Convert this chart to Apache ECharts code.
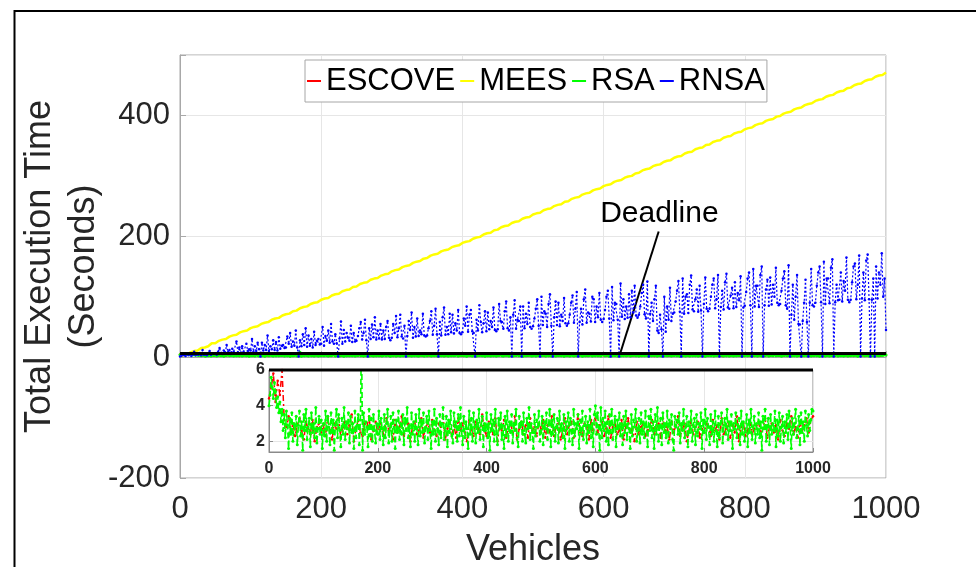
<!DOCTYPE html>
<html><head><meta charset="utf-8">
<script src="https://cdn.jsdelivr.net/npm/echarts@6/dist/echarts.min.js"></script>
<style>html,body{margin:0;padding:0;background:#fff}#c{width:976px;height:567px}</style>
</head><body><div id="c"></div>
<script>
// ---- data ----
const seriesNames = ['ESCOVE', 'MEES', 'RSA', 'RNSA'];
const xTickLabels = [0, 200, 400, 600, 800, 1000];
const mainYTickLabels = [-200, 0, 200, 400];
const insetYTickLabels = [2, 4, 6];
const deadlineValue = 6;
const rnsaStep = 2;    // vehicles between samples
const rsaStep = 2;
const escoveStep = 4;
const meesStep = 5;

const rnsaValues = [
 1,2,4,3,2,6,3,5,2,4,9,3,5,4,7,3,12,4,6,3,5,10,4,6,5,
 6,4,9,15,7,5,11,6,20,8,12,5,14,9,6,26,8,16,7,18,9,6,22,10,13,
 11,30,9,18,10,24,13,1,24,11,20,12,36,10,18,13,28,12,25,11,33,14,19,20,15,
 16,34,22,40,17,26,19,44,16,1,28,18,38,20,48,17,36,19,30,16,42,20,27,30,21,
 22,50,19,35,27,44,24,55,26,22,38,23,1,31,59,22,45,26,40,32,27,52,25,40,26,
 27,35,48,58,29,40,62,28,1,48,30,54,33,66,29,44,31,55,29,44,30,50,60,32,28,
 32,55,40,68,33,48,70,34,31,52,1,35,60,45,74,32,50,34,64,35,44,38,72,36,34,
 36,48,60,76,37,52,80,38,1,58,36,66,82,37,50,38,72,41,70,39,56,44,78,40,38,
 41,64,52,84,42,70,78,43,40,1,62,44,86,58,41,56,76,43,74,46,60,50,82,45,43,
 46,88,60,58,47,76,92,48,44,66,1,70,94,47,62,60,84,1,84,48,72,55,90,50,47,
 51,64,80,96,52,1,100,53,76,72,50,88,104,52,1,66,92,53,90,51,70,60,98,56,52,
 56,70,90,102,57,80,108,1,58,80,54,96,112,57,74,72,59,100,96,58,84,66,106,62,58,
 63,78,100,110,64,1,116,61,90,88,62,1,122,67,96,63,84,65,104,66,110,74,118,69,65,
 70,84,106,120,71,64,125,1,72,90,60,96,118,44,40,70,46,1,100,42,84,62,115,60,72,
 74,92,110,126,75,1,130,72,100,104,73,120,135,79,76,96,112,75,118,77,1,88,132,80,76,
 80,100,120,130,81,96,136,1,83,110,79,124,138,82,80,102,115,81,124,83,106,94,134,1,82,
 85,108,130,140,86,1,146,84,118,118,83,136,150,1,86,112,128,85,132,87,120,100,148,90,86,
 88,110,130,142,86,80,152,1,70,120,62,100,136,55,54,1,60,90,128,58,1,90,146,86,84,
 90,118,140,150,91,1,158,88,130,130,89,148,162,1,91,120,94,95,140,92,126,110,165,95,91,
 95,124,150,155,96,120,168,1,97,140,94,160,170,96,1,95,130,1,150,97,140,120,172,100,130,
 45
];

const meesValues = [
 1, 3, 4, 8, 10, 11, 15, 16, 18, 23,
 23, 27, 29, 30, 34, 36, 37, 41, 43, 44,
 48, 50, 51, 55, 57, 58, 62, 64, 65, 69,
 71, 72, 76, 77, 81, 83, 84, 88, 90, 91,
 95, 97, 98, 102, 104, 105, 109, 111, 112, 116,
 117, 121, 123, 124, 128, 130, 131, 135, 137, 138,
 142, 144, 145, 149, 151, 152, 156, 158, 159, 163,
 164, 168, 170, 171, 175, 177, 178, 182, 184, 185,
 189, 191, 192, 196, 198, 199, 203, 205, 206, 210,
 211, 215, 217, 218, 222, 224, 225, 229, 231, 232,
 236, 238, 239, 243, 245, 246, 250, 252, 253, 257,
 258, 262, 264, 265, 269, 271, 272, 276, 278, 279,
 283, 285, 286, 290, 292, 293, 297, 299, 300, 304,
 305, 309, 311, 312, 316, 318, 319, 323, 325, 326,
 330, 332, 333, 337, 339, 340, 344, 346, 347, 351,
 352, 356, 358, 359, 363, 365, 366, 370, 372, 373,
 377, 379, 380, 384, 386, 387, 391, 393, 394, 398,
 399, 403, 405, 406, 410, 412, 413, 417, 419, 420,
 424, 426, 427, 431, 433, 434, 438, 440, 441, 445,
 446, 450, 452, 453, 457, 459, 460, 464, 466, 467,
 471
];

const escoveValues = [
 4.4,5.0,5.8,4.2,5.4,4.6,6.0,3.2,2.8,3.4,2.5,3.0,2.3,2.9,3.3,2.6,2.1,3.1,2.7,2.4,3.2,2.0,2.8,3.0,2.5,
 2.9,2.3,3.4,2.6,2.1,3.0,2.7,3.3,2.2,2.8,3.1,2.4,2.9,3.5,2.0,2.7,3.2,2.5,2.3,3.0,2.8,3.4,2.1,2.6,3.1,
 2.4,3.0,2.7,2.2,3.3,2.6,2.9,2.1,3.2,2.5,2.8,3.4,2.3,2.7,3.0,2.0,2.9,3.1,2.4,2.6,3.3,2.2,2.8,3.0,2.5,
 3.2,2.6,2.3,3.0,2.8,3.4,2.1,2.7,3.1,2.4,2.9,2.2,3.3,2.6,3.0,2.5,2.0,3.2,2.7,2.3,3.1,2.8,2.4,3.5,2.6,
 2.3,3.1,2.7,2.4,3.3,2.0,2.9,2.6,3.2,2.2,2.8,3.0,2.5,3.4,2.1,2.7,3.1,2.4,2.9,2.2,3.3,2.6,2.8,2.3,3.0,
 2.7,3.2,2.2,2.9,2.5,3.4,2.3,2.8,3.0,2.1,2.6,3.3,2.4,2.9,3.1,2.2,2.7,3.5,2.5,2.3,3.0,2.8,2.1,3.2,2.6,
 3.3,2.5,2.9,3.1,2.3,2.7,3.4,2.2,2.8,3.0,2.4,2.6,3.2,2.1,2.9,3.3,2.5,2.7,2.0,3.1,2.4,2.8,3.0,2.3,2.6,
 2.9,3.2,2.4,2.7,3.0,2.2,3.3,2.6,2.8,2.1,3.1,2.5,2.9,3.4,2.3,2.7,3.0,2.0,2.6,3.2,2.4,2.8,3.1,2.2,2.7,
 2.5,3.0,2.8,2.3,3.2,2.6,2.9,2.1,3.3,2.4,2.7,3.1,2.2,2.9,2.5,3.4,2.0,2.8,3.0,2.3,2.6,3.2,2.4,2.7,2.9,
 3.1,2.4,2.7,3.3,2.2,2.8,3.0,2.5,2.9,2.1,3.2,2.6,2.3,3.0,2.7,3.4,2.4,2.8,2.2,3.1,2.6,2.9,3.3,2.5,3.2,
 3.4
];

const rsaValues = [
 4.0,4.6,5.6,5.0,4.4,5.3,4.8,3.9,4.5,3.6,4.2,3.1,3.8,2.6,3.5,2.2,3.7,2.9,1.6,3.3,2.4,3.6,2.0,3.0,2.7,
 3.4,1.8,2.9,3.7,2.3,3.1,1.5,3.5,2.6,3.8,2.1,2.8,3.3,1.7,3.6,2.5,3.0,2.2,3.9,1.9,2.7,3.4,2.4,3.2,1.6,
 3.0,2.3,3.7,2.0,3.4,2.8,1.8,3.6,2.5,3.2,1.5,2.9,3.8,2.2,3.5,2.6,1.7,3.3,2.4,3.9,2.1,3.1,2.7,3.6,1.9,
 3.4,2.5,3.0,1.6,3.7,2.2,2.9,3.5,1.8,3.2,8.0,1.5,3.6,2.4,3.1,2.8,1.7,3.8,2.3,3.3,2.0,3.5,2.6,1.9,3.0,
 2.4,3.7,2.1,3.3,2.7,1.8,3.5,2.2,3.0,3.8,1.9,2.6,3.4,2.0,3.6,2.8,1.6,3.2,2.5,3.7,2.1,3.0,2.4,3.5,1.8,
 3.3,2.6,3.9,2.2,2.9,1.7,3.6,2.4,3.1,2.0,3.5,2.7,1.8,3.8,2.3,3.2,2.5,3.6,1.9,2.8,3.4,2.1,3.7,2.6,1.6,
 3.1,2.4,3.8,2.0,3.3,2.7,1.8,3.5,2.2,3.0,3.9,2.1,2.6,3.4,1.7,3.2,2.5,3.7,2.3,1.9,3.6,2.8,3.1,2.0,3.5,
 2.3,3.9,2.6,1.8,3.4,2.2,3.1,2.7,1.6,3.7,2.4,3.3,2.0,3.6,2.8,1.9,3.2,2.5,3.8,2.1,2.9,3.4,1.7,3.0,2.6,
 3.6,2.2,3.0,1.5,3.5,2.6,3.2,2.0,3.8,2.4,1.8,3.3,2.7,3.6,2.1,2.9,1.6,3.4,2.3,3.7,2.0,3.1,2.5,3.5,1.9,
 3.0,2.6,3.8,2.2,1.7,3.4,2.8,3.1,2.0,3.6,2.4,1.9,3.3,2.7,3.9,2.1,3.0,2.5,1.6,3.5,2.3,3.2,2.8,3.7,2.0,
 2.5,3.4,1.8,3.1,2.7,3.6,2.1,2.9,3.8,1.7,3.2,2.4,3.5,2.0,2.8,3.3,1.9,3.7,2.6,3.0,2.2,3.5,1.6,3.1,2.7,
 3.6,2.0,3.3,2.6,1.8,3.8,2.3,3.0,2.7,3.5,1.6,3.2,2.4,3.7,2.1,2.9,3.4,1.9,3.1,2.5,3.8,2.2,3.0,1.7,3.5,
 4.0,2.4,3.6,2.8,1.5,3.9,2.2,3.3,2.6,3.7,2.0,3.1,1.8,3.5,2.5,3.8,2.1,2.9,3.4,1.7,3.2,2.7,3.6,2.3,3.0,
 1.8,3.4,2.5,3.7,2.1,3.0,2.7,1.6,3.5,2.3,3.2,2.8,3.8,2.0,2.6,3.3,1.9,3.6,2.4,3.1,2.2,3.7,2.8,1.7,3.4,
 2.6,3.8,2.2,3.1,1.6,3.5,2.4,3.9,2.0,2.9,3.3,1.8,3.6,2.5,3.0,2.2,3.7,1.9,3.2,2.7,3.5,2.1,1.5,3.4,2.8,
 3.2,2.4,3.6,1.9,3.0,2.6,3.8,2.2,2.8,3.4,1.7,3.1,2.5,3.7,2.0,2.9,3.3,1.8,3.5,2.3,3.0,2.7,3.6,1.6,3.2,
 2.5,3.8,2.1,3.3,2.8,1.8,3.5,2.4,3.1,2.0,3.7,2.6,1.7,3.4,2.2,3.0,3.6,1.9,2.9,3.3,2.4,3.8,2.1,3.1,2.6,
 3.5,1.6,3.0,2.7,3.6,2.2,2.9,3.3,1.8,3.7,2.4,3.1,2.0,2.6,3.5,1.7,3.2,2.5,3.8,2.1,2.8,3.4,1.9,3.0,2.4,
 3.6,2.2,3.1,1.5,3.4,2.7,3.8,2.0,2.9,3.3,1.8,3.5,2.4,3.0,2.6,3.7,1.7,3.2,2.3,3.6,2.0,2.8,3.4,1.9,3.1,
 2.5,3.5,2.1,3.7,2.8,1.6,3.3,2.4,3.0,3.8,2.2,2.7,3.4,1.8,3.6,2.5,3.1,2.0,3.7,2.9,2.3,3.5,2.6,3.2,3.8,
 3.7
];

// ---- styling / layout ----
const FONT = 'Liberation Sans, Arial, sans-serif';
const TXT = '#262626';
const AXIS_GRAY = '#a8a8a8';
const GRID_GRAY = '#e6e6e6';
const COLORS = { ESCOVE: '#ff0000', MEES: '#ffff00', RSA: '#00ff00', RNSA: '#0000ff' };
const arrowFrom = [678, 208], arrowTo = [624, 8], deadlineTextAt = [679, 238];

const pairs = (vals, step) => vals.map((v, i) => [i * step, v]);

const chart = echarts.init(document.getElementById('c'), null, { renderer: 'canvas' });

function lineSeries(name, vals, step, grid, extra) {
  return Object.assign({
    name: name, type: 'line', xAxisIndex: grid, yAxisIndex: grid,
    data: pairs(vals, step), color: COLORS[name],
    showAllSymbol: true, animation: false, silent: true, progressive: 0
  }, extra);
}
const escoveStyle = { symbol: 'circle', symbolSize: 2.5, lineStyle: { width: 1.5, type: [6, 3, 2, 3] }, z: 3 };
const meesStyle = { symbol: 'none', lineStyle: { width: 2.5 }, z: 4 };
const rsaStyle = { symbol: 'circle', symbolSize: 3, lineStyle: { width: 1.6, type: [6, 3] }, z: 5 };
const rnsaStyle = { symbol: 'circle', symbolSize: 2.5, lineStyle: { width: 1.2, type: [2, 2] }, z: 6 };

const option = {
  backgroundColor: '#fff',
  animation: false,
  textStyle: { fontFamily: FONT },
  graphic: [{
    type: 'rect', shape: { x: 14.5, y: 11, width: 1000, height: 600 },
    style: { fill: 'none', stroke: '#000', lineWidth: 2 }, silent: true, z: 100
  }],
  legend: {
    left: 305, top: 60, orient: 'horizontal',
    data: seriesNames, icon: 'rect', itemWidth: 14, itemHeight: 2, itemGap: 5,
    padding: [3, 2, 3, 2], borderColor: '#a6a6a6', borderWidth: 1, backgroundColor: '#fff',
    textStyle: { fontSize: 31, color: '#000', fontFamily: FONT, lineHeight: 36 },
    selectedMode: false
  },
  grid: [
    { left: 180, top: 55, width: 706, height: 423, show: true, borderColor: AXIS_GRAY, borderWidth: 1,
      backgroundColor: 'transparent', outerBoundsMode: 'none', containLabel: false },
    { left: 269, top: 370, width: 544, height: 82, show: true, borderColor: '#8a8a8a', borderWidth: 1,
      backgroundColor: 'transparent', outerBoundsMode: 'none', containLabel: false }
  ],
  xAxis: [
    {
      gridIndex: 0, type: 'value', min: 0, max: 1000, interval: 200,
      axisLine: { show: true, lineStyle: { color: AXIS_GRAY } },
      axisTick: { show: true, inside: true, length: 6, lineStyle: { color: AXIS_GRAY } },
      axisLabel: { fontSize: 31, color: TXT, margin: 16, fontFamily: FONT, hideOverlap: false,
        formatter: v => xTickLabels.includes(v) ? String(v) : '' },
      splitLine: { show: true, lineStyle: { color: GRID_GRAY } },
      name: 'Vehicles', nameLocation: 'middle', nameGap: 54, nameMoveOverlap: false,
      nameTextStyle: { fontSize: 36, color: TXT, fontFamily: FONT, lineHeight: 36 }
    },
    {
      gridIndex: 1, type: 'value', min: 0, max: 1000, interval: 200,
      axisLine: { show: true, lineStyle: { color: '#8a8a8a' } },
      axisTick: { show: true, inside: true, length: 4, lineStyle: { color: '#8a8a8a' } },
      axisLabel: { fontSize: 16, fontWeight: 'bold', color: TXT, margin: 9, fontFamily: FONT, hideOverlap: false,
        formatter: v => xTickLabels.includes(v) ? String(v) : '' },
      splitLine: { show: true, lineStyle: { color: GRID_GRAY } }
    }
  ],
  yAxis: [
    {
      gridIndex: 0, type: 'value', min: -200, max: 500, interval: 200,
      axisLine: { show: true, lineStyle: { color: AXIS_GRAY } },
      axisTick: { show: true, inside: true, length: 6, lineStyle: { color: AXIS_GRAY } },
      axisLabel: { fontSize: 31, color: TXT, margin: 10, fontFamily: FONT, hideOverlap: false,
        formatter: v => mainYTickLabels.includes(v) ? String(v) : '' },
      splitLine: { show: true, lineStyle: { color: GRID_GRAY } },
      name: 'Total Execution Time\n(Seconds)', nameLocation: 'middle', nameRotate: 90, nameGap: 74,
      nameMoveOverlap: false,
      nameTextStyle: { fontSize: 36, color: TXT, fontFamily: FONT, lineHeight: 44 }
    },
    {
      gridIndex: 1, type: 'value', min: 1.4, max: 6, splitNumber: 2,
      axisLine: { show: true, lineStyle: { color: '#8a8a8a' } },
      axisTick: { show: true, inside: true, length: 4, lineStyle: { color: '#8a8a8a' } },
      axisLabel: { fontSize: 16, fontWeight: 'bold', color: TXT, margin: 4, fontFamily: FONT, hideOverlap: false,
        formatter: v => insetYTickLabels.includes(v) ? String(v) : '' },
      splitLine: { show: true, lineStyle: { color: GRID_GRAY } }
    }
  ],
  series: [
    lineSeries('ESCOVE', escoveValues, escoveStep, 0, escoveStyle),
    lineSeries('MEES', meesValues, meesStep, 0, meesStyle),
    lineSeries('RSA', rsaValues, rsaStep, 0, rsaStyle),
    lineSeries('RNSA', rnsaValues, rnsaStep, 0, rnsaStyle),
    {
      name: 'Deadline', type: 'line', xAxisIndex: 0, yAxisIndex: 0, z: 8, silent: true,
      data: [[0, deadlineValue], [1000, deadlineValue]], symbol: 'none',
      lineStyle: { color: '#000', width: 3 },
      markLine: {
        silent: true, symbol: ['none', 'arrow'], symbolSize: [0, 13], animation: false,
        lineStyle: { color: '#000', width: 2, type: 'solid' }, label: { show: false },
        data: [[{ coord: arrowFrom }, { coord: arrowTo }]]
      },
      markPoint: {
        silent: true, symbol: 'circle', symbolSize: 0, animation: false,
        data: [{ coord: deadlineTextAt, label: { show: true, formatter: 'Deadline', fontSize: 30, color: '#000', fontFamily: FONT } }]
      }
    },
    lineSeries('ESCOVE', escoveValues, escoveStep, 1, escoveStyle),
    lineSeries('RSA', rsaValues, rsaStep, 1, rsaStyle),
    {
      name: 'DeadlineInset', type: 'line', xAxisIndex: 1, yAxisIndex: 1, z: 8, silent: true, clip: false,
      data: [[0, deadlineValue], [1000, deadlineValue]], symbol: 'none',
      lineStyle: { color: '#000', width: 3 }
    }
  ]
};
chart.setOption(option);
</script>
</body></html>
